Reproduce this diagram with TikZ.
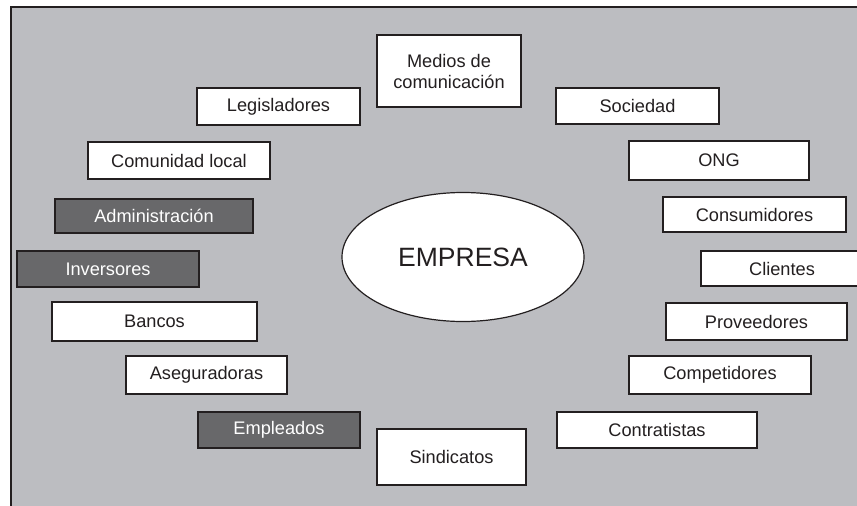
\documentclass[tikz,border=0pt]{standalone}
\usepackage{fontspec}
\setmainfont{Liberation Sans}
\usetikzlibrary{shapes.geometric}
\definecolor{bggray}{HTML}{BCBDC1}
\definecolor{darkbox}{HTML}{68686A}
\definecolor{ink}{HTML}{231F20}
\tikzset{
  wbox/.style={draw=ink, line width=1.3pt, fill=white, rectangle, inner sep=0pt,
    font=\fontsize{18.2}{21}\selectfont, text=ink, align=center},
  dbox/.style={wbox, fill=darkbox, text=white},
}
\begin{document}
\begin{tikzpicture}[x=1pt,y=-1pt]
\useasboundingbox (0,0) rectangle (857,506);
\fill[bggray] (11,7) rectangle (857,506);
\draw[ink, line width=1.2pt] (11,506) -- (11,7) -- (857,7);
\node[draw=ink, line width=1.2pt, fill=white, ellipse, minimum width=242pt, minimum height=129pt, inner sep=0pt,
  font=\fontsize{26.5}{30}\selectfont, text=ink] (emp0) at (463,257) {EMPRESA};
\node[wbox, minimum width=144pt, minimum height=72pt] (med) at (449,71) {Medios de\\comunicación};
\node[wbox, minimum width=163pt, minimum height=37pt] (leg) at (278.5,106.5) {Legisladores};
\node[wbox, minimum width=163pt, minimum height=36pt] (soc) at (637.5,106) {Sociedad};
\node[wbox, minimum width=182pt, minimum height=37pt] (com) at (179,160.5) {Comunidad local};
\node[wbox, minimum width=180pt, minimum height=39pt] (ong) at (719,160.5) {ONG};
\node[dbox, minimum width=198pt, minimum height=34pt] (adm) at (154,216) {Administración};
\node[wbox, minimum width=183pt, minimum height=35pt] (cns) at (754.5,214.5) {Consumidores};
\node[dbox, minimum width=182pt, minimum height=36pt] (inv) at (108,269) {Inversores};
\node[wbox, minimum width=162pt, minimum height=35pt] (cli) at (782,268.5) {Clientes};
\node[wbox, minimum width=205pt, minimum height=39pt] (ban) at (154.5,321.5) {Bancos};
\node[wbox, minimum width=181pt, minimum height=37pt] (pro) at (756.5,321.5) {Proveedores};
\node[wbox, minimum width=161pt, minimum height=38pt] (ase) at (206.5,375) {Aseguradoras};
\node[wbox, minimum width=182pt, minimum height=38pt] (cmp) at (720,375) {Competidores};
\node[dbox, minimum width=162pt, minimum height=36pt] (empl) at (279,430) {Empleados};
\node[wbox, minimum width=149pt, minimum height=56pt] (sin) at (451.5,457) {Sindicatos};
\node[wbox, minimum width=200pt, minimum height=36pt] (ctr) at (657,430) {Contratistas};
\end{tikzpicture}
\end{document}
